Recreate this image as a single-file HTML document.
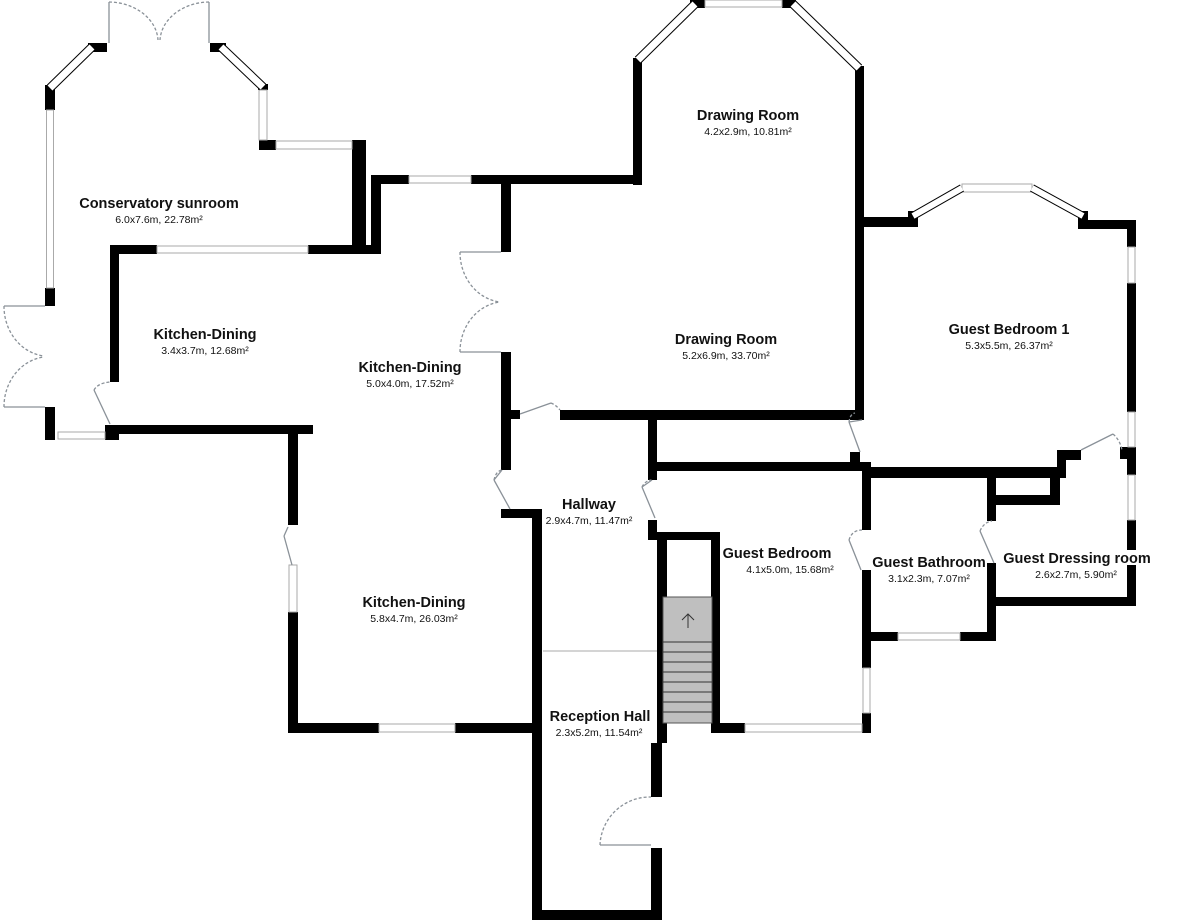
<!DOCTYPE html>
<html><head><style>
html,body{margin:0;padding:0;background:#fff;}
svg{display:block}
.t{font-family:"Liberation Sans",Arial,sans-serif;font-weight:bold;font-size:14.5px;fill:#111;text-anchor:middle}
.s{font-family:"Liberation Sans",Arial,sans-serif;font-size:10.5px;fill:#111;text-anchor:middle}
</style></head><body>
<svg width="1199" height="921" viewBox="0 0 1199 921" xmlns="http://www.w3.org/2000/svg">
<g fill="#000">
<!-- Conservatory -->
<rect x="45" y="85" width="10" height="25"/>
<rect x="45" y="288" width="10" height="18"/>
<rect x="45" y="407" width="10" height="33"/>
<rect x="88" y="43" width="19" height="9"/>
<rect x="210" y="43" width="16" height="9"/>
<rect x="258" y="84" width="10" height="6"/>
<rect x="259" y="140" width="17" height="10"/>
<rect x="352" y="140" width="14" height="110"/>
<rect x="105" y="425" width="14" height="15"/>
<!-- kitchen top -->
<rect x="110" y="245" width="47" height="9"/>
<rect x="308" y="245" width="73" height="9"/>
<rect x="110" y="245" width="9" height="137"/>
<rect x="371" y="175" width="10" height="79"/>
<rect x="371" y="175" width="38" height="9"/>
<rect x="471" y="175" width="170" height="9"/>
<rect x="501" y="175" width="10" height="77"/>
<rect x="501" y="352" width="10" height="118"/>
<rect x="119" y="425" width="194" height="9"/>
<rect x="288" y="425" width="10" height="100"/>
<rect x="288" y="612" width="10" height="121"/>
<rect x="288" y="723" width="91" height="10"/>
<rect x="455" y="723" width="87" height="10"/>
<!-- Drawing room -->
<rect x="633" y="58" width="9" height="127"/>
<rect x="690" y="0" width="15" height="8"/>
<rect x="782" y="0" width="14" height="8"/>
<rect x="855" y="66" width="9" height="352"/>
<rect x="511" y="410" width="9" height="9"/>
<rect x="560" y="410" width="304" height="10"/>
<rect x="648" y="418" width="9" height="62"/>
<rect x="648" y="462" width="214" height="9"/>
<rect x="850" y="452" width="10" height="19"/>
<!-- hallway -->
<rect x="501" y="509" width="39" height="9"/>
<rect x="532" y="509" width="10" height="411"/>
<rect x="532" y="910" width="130" height="10"/>
<rect x="651" y="848" width="11" height="72"/>
<rect x="651" y="743" width="11" height="54"/>
<rect x="648" y="520" width="9" height="20"/>
<rect x="657" y="532" width="63" height="8"/>
<rect x="657" y="532" width="10" height="211"/>
<rect x="711" y="532" width="9" height="201"/>
<rect x="711" y="723" width="34" height="10"/>
<!-- Guest bedroom -->
<rect x="862" y="462" width="9" height="66"/>
<rect x="862" y="570" width="9" height="98"/>
<rect x="862" y="713" width="9" height="20"/>
<!-- Guest bedroom 1 -->
<rect x="862" y="217" width="56" height="10"/>
<rect x="908" y="211" width="10" height="12"/>
<rect x="1078" y="211" width="10" height="16"/>
<rect x="1078" y="220" width="58" height="9"/>
<rect x="1127" y="220" width="9" height="27"/>
<rect x="1127" y="283" width="9" height="129"/>
<rect x="1127" y="447" width="9" height="28"/>
<rect x="1127" y="520" width="9" height="30"/>
<rect x="1127" y="565" width="9" height="41"/>
<rect x="862" y="467" width="198" height="11"/>
<rect x="1057" y="450" width="24" height="10"/>
<rect x="1057" y="450" width="9" height="28"/>
<rect x="1120" y="447" width="16" height="12"/>
<!-- bathroom / dressing -->
<rect x="862" y="470" width="9" height="60"/>
<rect x="862" y="632" width="36" height="9"/>
<rect x="960" y="632" width="36" height="9"/>
<rect x="987" y="470" width="9" height="51"/>
<rect x="987" y="563" width="9" height="78"/>
<rect x="987" y="495" width="73" height="10"/>
<rect x="1050" y="470" width="10" height="35"/>
<rect x="996" y="597" width="140" height="9"/>
</g>
<!-- windows -->
<g fill="#fff" stroke="#aaa" stroke-width="1">
<rect x="46.5" y="110" width="7" height="178"/>
<rect x="259" y="90" width="8" height="50"/>
<rect x="276" y="141" width="76" height="8"/>
<rect x="157" y="246" width="151" height="7"/>
<rect x="409" y="176" width="62" height="7"/>
<rect x="58" y="432" width="47" height="7"/>
<rect x="289" y="565" width="8" height="47"/>
<rect x="379" y="724" width="76" height="8"/>
<rect x="705" y="0" width="77" height="7"/>
<rect x="962" y="184" width="70" height="8"/>
<rect x="1128" y="247" width="7" height="36"/>
<rect x="1128" y="412" width="7" height="35"/>
<rect x="1128" y="475" width="7" height="45"/>
<rect x="898" y="633" width="62" height="7"/>
<rect x="745" y="724" width="117" height="8"/>
<rect x="863" y="668" width="7" height="45"/>
</g>
<!-- diagonal windows -->
<g stroke-linecap="butt">
<line x1="50" y1="88" x2="92" y2="47" stroke="#000" stroke-width="9"/>
<line x1="50" y1="88" x2="92" y2="47" stroke="#fff" stroke-width="7"/>
<line x1="221" y1="47" x2="263" y2="87" stroke="#000" stroke-width="9"/>
<line x1="221" y1="47" x2="263" y2="87" stroke="#fff" stroke-width="7"/>
<line x1="638" y1="60" x2="695" y2="4" stroke="#000" stroke-width="9"/>
<line x1="638" y1="60" x2="695" y2="4" stroke="#fff" stroke-width="7"/>
<line x1="793" y1="4" x2="859" y2="68" stroke="#000" stroke-width="9"/>
<line x1="793" y1="4" x2="859" y2="68" stroke="#fff" stroke-width="7"/>
<line x1="913" y1="216" x2="962" y2="188" stroke="#000" stroke-width="8"/>
<line x1="913" y1="216" x2="962" y2="188" stroke="#fff" stroke-width="6"/>
<line x1="1032" y1="188" x2="1083" y2="216" stroke="#000" stroke-width="8"/>
<line x1="1032" y1="188" x2="1083" y2="216" stroke="#fff" stroke-width="6"/>
</g>
<!-- doors -->
<g fill="none" stroke="#8a9198" stroke-width="1.3">
<line x1="109" y1="2" x2="109" y2="43"/><line x1="209" y1="2" x2="209" y2="43"/>
<line x1="4" y1="306" x2="45" y2="306"/><line x1="4" y1="407" x2="45" y2="407"/>
<line x1="460" y1="252" x2="501" y2="252"/><line x1="460" y1="352" x2="501" y2="352"/>
<line x1="110" y1="424" x2="94" y2="390"/>
<line x1="520" y1="414" x2="551" y2="403"/>
<line x1="502" y1="470" x2="494" y2="480"/><line x1="494" y1="480" x2="510" y2="509"/>
<line x1="652" y1="480" x2="642" y2="487"/><line x1="642" y1="487" x2="655" y2="518"/>
<line x1="862" y1="420" x2="849" y2="422"/><line x1="849" y1="422" x2="860" y2="452"/>
<line x1="1081" y1="450" x2="1113" y2="434"/>
<line x1="849" y1="540" x2="861" y2="570"/>
<line x1="980" y1="531" x2="994" y2="563"/>
<line x1="600" y1="845" x2="651" y2="845"/>
<line x1="288" y1="527" x2="284" y2="536"/><line x1="284" y1="536" x2="292" y2="565"/>
<line x1="543" y1="651" x2="657" y2="651" stroke="#bbb"/>
</g>
<g fill="none" stroke="#8a9198" stroke-width="1.3" stroke-dasharray="3,2">
<path d="M109 2 A50 40 0 0 1 158 40"/><path d="M209 2 A50 40 0 0 0 160 40"/>
<path d="M4 306 A45 50 0 0 0 44 356"/><path d="M4 407 A45 50 0 0 1 44 357"/>
<path d="M460 252 A45 50 0 0 0 500 302"/><path d="M460 352 A45 50 0 0 1 500 302"/>
<path d="M94 390 Q98 383 110 382"/>
<path d="M551 403 Q556 405 560 410"/>
<path d="M494 480 Q496 471 502 470"/>
<path d="M642 487 Q645 481 651 480"/>
<path d="M849 422 Q850 414 855 413"/>
<path d="M1113 434 Q1120 440 1122 450"/>
<path d="M849 540 Q852 530 862 530"/>
<path d="M980 531 Q984 522 992 521"/>
<path d="M600 845 A50 50 0 0 1 651 797"/>
</g>
<!-- stairs -->
<rect x="663" y="597" width="49" height="126" fill="#bfbfbf" stroke="#555" stroke-width="1"/>
<g stroke="#333" stroke-width="1">
<line x1="663" y1="642" x2="712" y2="642"/><line x1="663" y1="652" x2="712" y2="652"/>
<line x1="663" y1="662" x2="712" y2="662"/><line x1="663" y1="672" x2="712" y2="672"/>
<line x1="663" y1="682" x2="712" y2="682"/><line x1="663" y1="692" x2="712" y2="692"/>
<line x1="663" y1="702" x2="712" y2="702"/><line x1="663" y1="712" x2="712" y2="712"/>
<path d="M688 628 V614 M682 620 L688 614 L694 620" fill="none"/>
</g>
<!-- labels -->
<text class="t" x="159" y="208">Conservatory sunroom</text><text class="s" x="159" y="223">6.0x7.6m, 22.78m²</text>
<text class="t" x="205" y="339">Kitchen-Dining</text><text class="s" x="205" y="354">3.4x3.7m, 12.68m²</text>
<text class="t" x="410" y="372">Kitchen-Dining</text><text class="s" x="410" y="387">5.0x4.0m, 17.52m²</text>
<text class="t" x="748" y="120">Drawing Room</text><text class="s" x="748" y="135">4.2x2.9m, 10.81m²</text>
<text class="t" x="726" y="344">Drawing Room</text><text class="s" x="726" y="359">5.2x6.9m, 33.70m²</text>
<text class="t" x="1009" y="334">Guest Bedroom 1</text><text class="s" x="1009" y="349">5.3x5.5m, 26.37m²</text>
<text class="t" x="589" y="509">Hallway</text><text class="s" x="589" y="524">2.9x4.7m, 11.47m²</text>
<text class="t" x="777" y="558">Guest Bedroom</text><text class="s" x="790" y="573">4.1x5.0m, 15.68m²</text>
<text class="t" x="929" y="567">Guest Bathroom</text><text class="s" x="929" y="582">3.1x2.3m, 7.07m²</text>
<text class="t" x="1077" y="563">Guest Dressing room</text><text class="s" x="1076" y="578">2.6x2.7m, 5.90m²</text>
<text class="t" x="414" y="607">Kitchen-Dining</text><text class="s" x="414" y="622">5.8x4.7m, 26.03m²</text>
<text class="t" x="600" y="721">Reception Hall</text><text class="s" x="599" y="736">2.3x5.2m, 11.54m²</text>
</svg>
</body></html>
